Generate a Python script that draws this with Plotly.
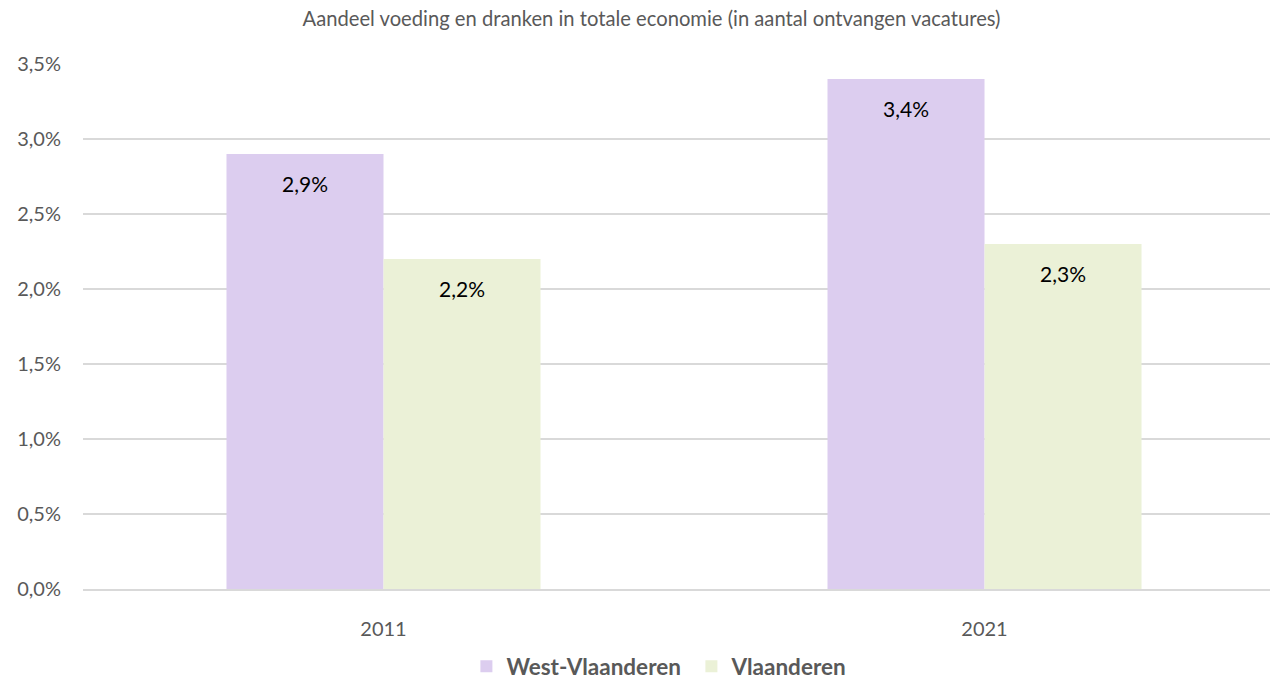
import plotly.graph_objects as go

years = ["2011", "2021"]
west_vlaanderen = [2.9, 3.4]
vlaanderen = [2.2, 2.3]
y_ticks = [0.0, 0.5, 1.0, 1.5, 2.0, 2.5, 3.0, 3.5]
y_tick_labels = ["0,0%", "0,5%", "1,0%", "1,5%", "2,0%", "2,5%", "3,0%", "3,5%"]

FONT = "Lato, 'Open Sans', sans-serif"
GREY = "#595959"
BARGAP = 0.4775
BAR_W = (1 - BARGAP) / 2

fig = go.Figure()
fig.add_trace(go.Bar(name="West-Vlaanderen", x=years, y=west_vlaanderen,
                     marker=dict(color="#DCCDEF", line=dict(width=0))))
fig.add_trace(go.Bar(name="Vlaanderen", x=years, y=vlaanderen,
                     marker=dict(color="#EBF1D7", line=dict(width=0))))

# value labels just under each bar top
for i in range(len(years)):
    for vals, side in ((west_vlaanderen, -1), (vlaanderen, 1)):
        v = vals[i]
        fig.add_annotation(x=i + side * BAR_W / 2, y=v, xref="x", yref="y",
                           text=f"{v:.1f}%".replace(".", ","), showarrow=False,
                           yshift=-29, font=dict(family=FONT, size=21, color="#000000"))

fig.update_layout(
    width=1270, height=683,
    margin=dict(l=83, r=0, t=64, b=94),
    paper_bgcolor="white", plot_bgcolor="white",
    barmode="group", bargap=BARGAP, bargroupgap=0,
    title=dict(text="Aandeel voeding en dranken in totale economie (in aantal ontvangen vacatures)",
               x=0.513, xanchor="center", y=0.972, yanchor="middle",
               font=dict(family=FONT, size=20.2, color=GREY)),
    font=dict(family=FONT, color=GREY),
    legend=dict(orientation="h", x=0.323, xanchor="left",
                yref="container", y=0.024, yanchor="middle",
                font=dict(family=FONT, size=22.5, color=GREY, weight="bold"),
                itemwidth=30, traceorder="normal",
                entrywidth=180, entrywidthmode="pixels"),
    showlegend=True,
)
fig.update_xaxes(type="category", range=[-0.5, 1.475], showline=True,
                 linecolor="#D9D9D9", linewidth=1.5,
                 tickfont=dict(family=FONT, size=20, color=GREY), ticks="",
                 ticklabelstandoff=21)
fig.update_yaxes(range=[0, 3.5], tickvals=y_ticks, ticktext=y_tick_labels,
                 showgrid=True, gridcolor="#D9D9D9", gridwidth=1.5, zeroline=False,
                 tickfont=dict(family=FONT, size=20, color=GREY), ticks="",
                 ticklabelstandoff=21)

fig.write_html("out.html")
